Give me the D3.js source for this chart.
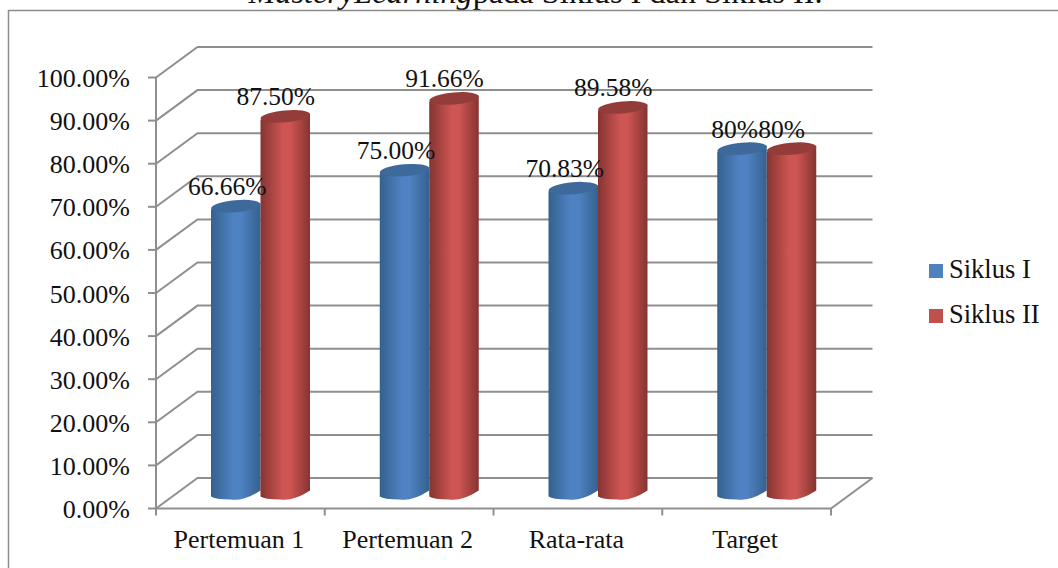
<!DOCTYPE html>
<html>
<head>
<meta charset="utf-8">
<script src="https://cdn.jsdelivr.net/npm/d3@7"></script>
<style>
html, body { margin: 0; padding: 0; background: #fff; overflow: hidden; }
svg { display: block; }
text { font-family: "Liberation Serif", serif; fill: #111; }
</style>
</head>
<body>
<svg id="chart" width="1058" height="568"></svg>
<script>
// Chart values
const categories = ["Pertemuan 1", "Pertemuan 2", "Rata-rata", "Target"];
const seriesNames = ["Siklus I", "Siklus II"];
const siklusI = [66.66, 75.0, 70.83, 80];
const siklusII = [87.5, 91.66, 89.58, 80];
const siklusILabels = ["66.66%", "75.00%", "70.83%", "80%"];
const siklusIILabels = ["87.50%", "91.66%", "89.58%", "80%"];
const yTicks = [0, 10, 20, 30, 40, 50, 60, 70, 80, 90, 100];

const svg = d3.select("#chart");
const defs = svg.append("defs");

// Front plane of the pseudo-3D plot and the offset to its back wall
const x = d3.scaleBand().domain(categories).range([156, 831]);
const y = d3.scaleLinear().domain([0, 100]).range([508.5, 77.5]);
const depthX = 41.5, depthY = -30.5;
const barBaseShift = -15;   // cylinders stand midway through the floor depth

// Caption line running off the top of the page, above the frame
svg.append("text")
  .attr("x", 535.5).attr("y", 3)
  .attr("text-anchor", "middle").attr("font-size", 32.3)
  .call(t => {
    t.append("tspan").attr("font-style", "italic").text("MasteryLearning");
    t.append("tspan").text("pada Siklus I dan Siklus II.");
  });
svg.append("path")
  .attr("d", "M8.5,568V10.5H1058")
  .attr("fill", "none").attr("stroke", "#8c8c8c").attr("stroke-width", 1.5);

// Walls: gridlines, left side wall, floor
const gridColor = "#8f8f8f";
const walls = svg.append("g").attr("fill", "none").attr("stroke", gridColor).attr("stroke-width", 2);
yTicks.forEach(t => {
  const yy = y(t);
  walls.append("path").attr("d",
    `M${x.range()[0]},${yy}L${x.range()[0] + depthX},${yy + depthY}H${x.range()[1] + depthX}`);
  walls.append("path").attr("d", `M${x.range()[0] - 8},${yy}H${x.range()[0]}`);
});
walls.append("path").attr("d", `M${x.range()[0]},${y(0)}V${y(100)}`);
walls.append("path").attr("d",
  `M${x.range()[0]},${y(0)}H${x.range()[1]}L${x.range()[1] + depthX},${y(0) + depthY}`);
[...categories.map(c => x(c)), x.range()[1]].forEach(px => {
  walls.append("path").attr("d", `M${px},${y(0)}v7`);
});

// Axis labels
svg.append("g").selectAll("text").data(yTicks).join("text")
  .attr("x", 130).attr("y", d => y(d) + 9.5)
  .attr("text-anchor", "end").attr("font-size", 26)
  .text(d => d3.format(".2f")(d) + "%");
svg.append("g").selectAll("text").data(categories).join("text")
  .attr("x", d => x(d) + x.bandwidth() / 2 - 1.5).attr("y", 548)
  .attr("text-anchor", "middle").attr("font-size", 26)
  .text(d => d);

// Horizontal shading across a cylinder body
function bodyGradient(id, edge, mid) {
  const g = defs.append("linearGradient").attr("id", id);
  [[0, edge], [0.45, mid], [0.6, mid], [1, edge]].forEach(([o, c]) =>
    g.append("stop").attr("offset", o).attr("stop-color", c));
}
bodyGradient("blueBody", "#34618f", "#4f82c2");
bodyGradient("redBody", "#853432", "#cd5552");

const barStyles = [
  { values: siklusI, labels: siklusILabels, fill: "url(#blueBody)", cap: "#3d6a9b", offset: 0 },
  { values: siklusII, labels: siklusIILabels, fill: "url(#redBody)", cap: "#943c3a", offset: 1 }
];
const barWidth = 49.5, capRy = 6, tilt = -5;
const groupLeft = c => x(c) + 55;

// Red cylinders are painted after blue so they overlap them
barStyles.forEach(s => {
  const g = svg.append("g");
  categories.forEach((c, i) => {
    const left = groupLeft(c) + s.offset * barWidth;
    const right = left + barWidth;
    const top = y(s.values[i]) + barBaseShift;
    const base = y(0) + barBaseShift;
    const cx = (left + right) / 2;
    // Body: straight sides closed by a tilted elliptical bottom
    g.append("path")
      .attr("d", `M${left},${top + 3}L${right},${top - 3}V${base - 3}` +
        `Q${cx + 8},${base + 8} ${cx - 5},${base + 6}Q${left + 4},${base + 6} ${left},${base + 3}Z`)
      .attr("fill", s.fill);
    // Top cap, tilted slightly up to the right
    g.append("ellipse")
      .attr("cx", cx).attr("cy", top)
      .attr("rx", barWidth / 2).attr("ry", capRy)
      .attr("transform", `rotate(${tilt} ${cx} ${top})`)
      .attr("fill", s.cap);
  });
});

// Value labels sit above the cylinder tops; the equal Target pair sits side by side
barStyles.forEach((s, si) => {
  svg.append("g").selectAll("text").data(categories).join("text")
    .attr("x", (c) => {
      const centre = groupLeft(c) + s.offset * barWidth + barWidth / 2;
      return centre + (c === "Target" ? (si ? -10 : -7.5) : (si ? -9.5 : -8.5));
    })
    .attr("y", (c, i) => y(s.values[i]) + barBaseShift - 11)
    .attr("text-anchor", "middle").attr("font-size", 25.5)
    .text((c, i) => s.labels[i]);
});

// Legend
const legend = svg.append("g");
seriesNames.forEach((name, i) => {
  const ly = 271 + i * 45;
  legend.append("rect").attr("x", 929).attr("y", ly - 7).attr("width", 14).attr("height", 14)
    .attr("fill", i ? "#c0504d" : "#4f81bd");
  legend.append("text").attr("x", 949).attr("y", ly + 7).attr("font-size", 26.5).text(name);
});
</script>
</body>
</html>
